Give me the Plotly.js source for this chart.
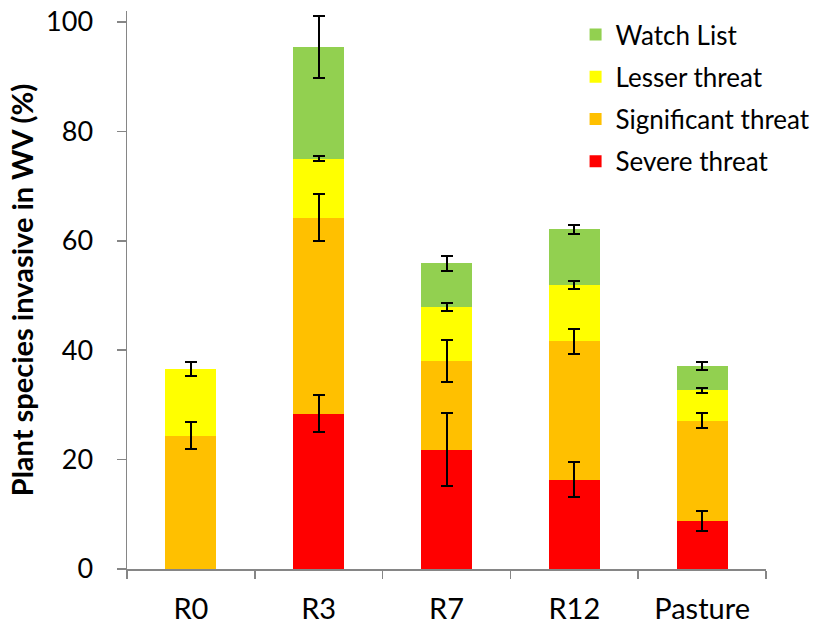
<!DOCTYPE html>
<html><head><meta charset="utf-8">
<script src="https://cdn.plot.ly/plotly-3.0.1.min.js"></script>
<style>body{margin:0;padding:0;background:#fff}#chart{width:823px;height:624px}</style>
</head><body><div id="chart"></div>
<script>
const categories = ["R0", "R3", "R7", "R12", "Pasture"];
const severe      = [null, 28.4, 21.8, 16.3, 8.8];
const severeErr   = [0, 3.4, 6.7, 3.2, 1.8];
const significant = [24.4, 35.8, 16.2, 25.3, 18.3];
const significantErr = [2.5, 4.3, 3.9, 2.3, 1.35];
const lesser      = [12.2, 10.8, 9.9, 10.3, 5.6];
const lesserErr   = [1.3, 0.5, 0.65, 0.8, 0.45];
const watch       = [null, 20.4, 8.0, 10.2, 4.4];
const watchErr    = [0, 5.6, 1.4, 0.8, 0.75];
const names  = ["Severe threat", "Significant threat", "Lesser threat", "Watch List"];
const colors = ["#FF0000", "#FFC000", "#FFFF00", "#92D050"];

const series = [[severe, severeErr], [significant, significantErr], [lesser, lesserErr], [watch, watchErr]];
// visible coloured stack
const traces = series.map((s, i) => ({
  type: "bar", x: categories, y: s[0], name: names[i], legendgroup: "g" + i, legendrank: 100 - i,
  marker: {color: colors[i], line: {width: 0}}, width: 0.4
}));
// transparent copy of the stack on an overlaid axis, carrying the error bars so they sit on top
series.forEach((s, i) => traces.push({
  type: "bar", x: categories, y: s[0], xaxis: "x2", yaxis: "y2", showlegend: false,
  marker: {color: "rgba(0,0,0,0)", line: {width: 0}}, width: 0.4,
  error_y: {type: "data", array: s[1], visible: true, color: "#000", thickness: 2, width: 6}
}));

const font = "Lato, 'Open Sans', sans-serif";
const yr = [0, 102];
const layout = {
  width: 823, height: 624, barmode: "stack",
  margin: {l: 127, r: 57, t: 11, b: 55, autoexpand: false},
  paper_bgcolor: "#fff", plot_bgcolor: "#fff",
  font: {family: font, color: "#000", size: 22},
  showlegend: true,
  legend: {x: 0.702, xanchor: "left", y: 1.0, yanchor: "top", traceorder: "grouped",
           tracegroupgap: 5.5, font: {size: 26, family: font}, bgcolor: "rgba(0,0,0,0)"},
  xaxis: {type: "category", range: [-0.5, 4.5], showline: true, linecolor: "#868686", linewidth: 1.5,
          ticks: "outside", tickson: "boundaries", ticklen: 8, tickcolor: "#868686", tickwidth: 1.5,
          tickfont: {size: 29}, ticklabelstandoff: 14, showgrid: false, zeroline: false},
  yaxis: {range: yr, showline: true, linecolor: "#868686", linewidth: 1.5,
          ticks: "outside", ticklen: 9, tickcolor: "#868686", tickwidth: 1.5, tickvals: [0,20,40,60,80,100],
          tickfont: {size: 27}, ticklabelstandoff: 18, showgrid: false, zeroline: false,
          title: {text: "<b>Plant species invasive in WV (%)</b>", font: {size: 29}, standoff: 4}},
  xaxis2: {type: "category", range: [-0.5, 4.5], overlaying: "x", visible: false},
  yaxis2: {range: yr, overlaying: "y", visible: false}
};
Plotly.newPlot("chart", traces, layout, {displayModeBar: false, staticPlot: true});
</script></body></html>
